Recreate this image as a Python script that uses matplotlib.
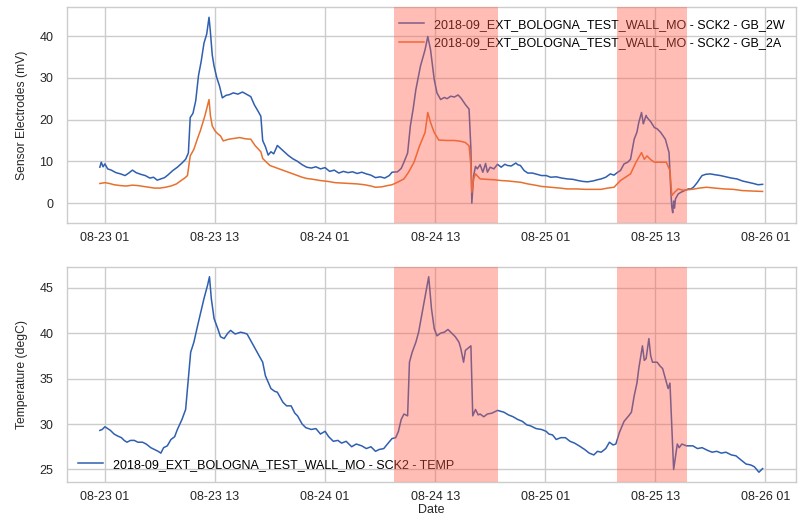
import matplotlib
matplotlib.use("Agg")
import matplotlib.pyplot as plt
import matplotlib.dates as mdates
import pandas as pd

# === 基本设置 ===
plt.rcParams["font.family"] = ["Liberation Sans", "DejaVu Sans"]

START = pd.Timestamp("2018-08-23 00:00")
NAME = "2018-09_EXT_BOLOGNA_TEST_WALL_MO - SCK2"

# === 数据 (小时, 从 08-23 00:00 起算) ===
hours_2w = [0.45, 0.6, 0.8, 1.0, 1.3, 1.7, 2.2, 2.7, 3.2, 3.6, 4.0, 4.4, 4.9, 5.4, 5.9, 6.3, 6.7, 7.1, 7.5, 7.9,
            8.4, 8.9, 9.4, 9.8, 10.1, 10.3, 10.6, 10.9, 11.2, 11.5, 11.8, 12.1, 12.35, 12.5, 12.7, 12.9, 13.2,
            13.5, 13.8, 14.2, 14.6, 15.0, 15.5, 16.0, 16.5, 16.9, 17.3, 17.7, 18.0, 18.2, 18.5, 18.8, 19.1,
            19.4, 19.8, 20.2, 20.6, 21.0, 21.5, 22.0, 22.5, 23.0, 23.5, 24.0, 24.5, 25.0, 25.5, 26.0, 26.5,
            27.0, 27.5, 28.0, 28.5, 29.0, 29.5, 30.0, 30.5, 31.0, 31.5, 32.0, 32.3, 32.9, 33.3, 33.6, 34.0,
            34.3, 34.6, 34.9, 35.4, 35.9, 36.2, 36.5, 36.9, 37.2, 37.6, 38.0, 38.3, 38.7, 39.1, 39.5, 39.8,
            40.3, 40.7, 40.9, 41.0, 41.2, 41.4, 41.6, 41.9, 42.2, 42.5, 42.7, 43.0, 43.4, 43.8, 44.2, 44.6,
            44.9, 45.3, 45.8, 46.0, 46.3, 46.7, 47.1, 47.6, 48.1, 48.6, 49.1, 49.6, 50.2, 50.8, 51.4, 52.0,
            52.6, 53.1, 53.6, 54.2, 54.7, 55.1, 55.6, 56.1, 56.5, 56.9, 57.2, 57.6, 58.0, 58.3, 58.7, 59.0,
            59.2, 59.5, 59.7, 59.8, 60.0, 60.1, 60.5, 60.9, 61.2, 61.6, 62.1, 62.5, 62.7, 62.8, 62.9, 63.0,
            63.1, 63.2, 63.5, 63.8, 64.1, 64.3, 64.6, 64.9, 65.2, 65.6, 65.9, 66.1, 66.5, 67.0, 67.5, 68.1,
            68.7, 69.3, 69.9, 70.5, 71.1, 71.7, 72.2, 72.7]
gb_2w = [8.6, 9.8, 8.7, 9.4, 8.2, 7.9, 7.3, 7.0, 6.6, 7.2, 7.9, 7.3, 6.9, 6.6, 6.0, 6.2, 5.5, 5.8, 6.1, 6.8,
         7.8, 8.6, 9.6, 10.5, 12.0, 20.5, 21.5, 24.5, 30.5, 34.0, 38.3, 40.5, 44.5, 41.0, 35.5, 32.8, 30.0,
         28.0, 25.2, 25.8, 26.0, 26.4, 26.1, 26.6, 26.0, 25.5, 23.5, 22.0, 20.8, 15.0, 13.5, 11.5, 12.3,
         11.8, 13.8, 13.0, 12.2, 11.4, 10.6, 10.0, 9.2, 8.6, 8.4, 8.7, 8.2, 8.5, 7.6, 7.9, 7.2,
         7.6, 7.3, 7.5, 7.1, 7.4, 7.0, 6.7, 6.1, 6.3, 6.0, 6.6, 7.4, 7.5, 8.3, 9.8, 12.0,
         18.5, 22.5, 27.2, 32.8, 36.7, 39.9, 36.7, 29.6, 26.4, 24.8, 25.3, 25.0, 25.6, 25.4, 25.9, 25.2,
         23.6, 22.5, 12.9, 0.0, 6.6, 8.8, 8.2, 9.2, 7.4, 9.5, 7.4, 8.6, 8.2, 9.3, 8.6, 9.3,
         9.0, 8.9, 9.6, 9.2, 9.0, 7.8, 7.2, 7.2, 6.9, 6.6, 6.6, 6.2, 6.3, 6.0, 5.8, 5.7,
         5.4, 5.2, 5.1, 5.3, 5.6, 5.8, 6.2, 7.0, 6.7, 7.4, 7.8, 9.4, 9.8, 10.5, 15.3, 17.0,
         19.3, 21.7, 19.0, 19.7, 21.0, 20.5, 19.5, 18.1, 17.8, 16.9, 15.3, 12.1, 2.6, -1.0, -2.3, 0.5,
         -1.2, 1.0, 2.2, 2.6, 2.9, 3.1, 3.4, 3.4, 3.9, 5.0, 6.0, 6.6, 6.9, 7.0, 6.8, 6.6,
         6.3, 6.0, 5.8, 5.3, 5.0, 4.7, 4.4, 4.5]

hours_2a = [0.45, 1.0, 1.5, 2.0, 2.7, 3.3, 4.0, 4.6, 5.2, 5.8, 6.4, 7.0, 7.6, 8.2, 8.8, 9.3, 9.7, 10.0, 10.3,
            10.7, 11.1, 11.4, 11.9, 12.2, 12.35, 12.5, 12.7, 13.0, 13.3, 13.6, 13.9, 14.5, 15.1, 15.7, 16.3,
            16.9, 17.4, 18.0, 18.2, 18.6, 19.0, 19.5, 20.0, 20.5, 21.0, 21.5, 22.0, 22.5, 23.0, 23.7, 24.5,
            25.3, 26.1, 26.9, 27.7, 28.5, 29.3, 30.0, 30.5, 31.2, 31.8, 32.3, 32.9, 33.6, 34.1, 34.7, 35.3,
            35.9, 36.2, 36.5, 36.9, 37.4, 38.3, 39.1, 39.8, 40.3, 40.7, 40.9, 41.0, 41.2, 41.4, 41.9, 42.6,
            43.4, 44.2, 45.0, 45.8, 46.3, 47.1, 47.9, 48.6, 49.6, 50.6, 51.4, 52.4, 53.4, 54.4, 55.1, 55.8,
            56.5, 57.2, 58.3, 58.9, 59.5, 59.8, 60.1, 60.5, 60.9, 61.6, 62.2, 62.6, 62.8, 63.1, 63.5, 64.0,
            65.0, 65.8, 66.6, 67.5, 68.5, 69.5, 70.5, 71.5, 72.7]
gb_2a = [4.7, 4.9, 4.7, 4.4, 4.2, 4.1, 4.3, 4.2, 4.0, 3.8, 3.6, 3.6, 3.8, 4.1, 4.6, 5.4, 6.0, 6.6, 11.3,
         12.9, 15.5, 17.3, 20.9, 23.5, 24.8, 21.0, 18.5, 17.3, 16.6, 16.1, 14.9, 15.3, 15.5, 15.7, 15.4,
         15.3, 13.7, 12.3, 10.7, 9.8, 9.0, 8.6, 8.2, 7.8, 7.4, 7.0, 6.6, 6.2, 5.9, 5.7, 5.4,
         5.2, 4.9, 4.8, 4.7, 4.6, 4.4, 4.1, 3.8, 3.9, 4.2, 4.4, 5.0, 5.8, 7.4, 9.8, 13.7,
         16.9, 21.7, 19.3, 16.9, 15.1, 15.0, 15.0, 14.8, 14.5, 13.7, 9.0, 2.6, 5.8, 7.0, 5.8, 5.7,
         5.6, 5.4, 5.3, 5.1, 5.0, 4.6, 4.3, 4.0, 3.8, 3.6, 3.4, 3.4, 3.3, 3.3, 3.3, 3.6,
         3.8, 5.4, 7.0, 9.8, 12.1, 10.5, 11.3, 10.4, 9.8, 9.8, 9.8, 7.8, 1.8, 2.6, 3.4, 3.1,
         3.3, 3.6, 3.8, 3.6, 3.4, 3.3, 3.0, 2.9, 2.8]

hours_temp = [0.45, 0.7, 1.0, 1.3, 1.6, 2.0, 2.35, 2.8, 3.1, 3.4, 3.8, 4.2, 4.6, 5.1, 5.5, 6.0, 6.4, 6.8, 7.1,
              7.4, 7.8, 8.2, 8.6, 8.9, 9.4, 9.8, 10.0, 10.35, 10.7, 11.1, 11.45, 11.8, 12.2, 12.4, 12.6, 12.9,
              13.3, 13.6, 14.0, 14.4, 14.7, 15.2, 15.8, 16.2, 16.5, 17.1, 17.6, 18.2, 18.5, 19.1, 19.5, 19.8,
              20.4, 20.8, 21.3, 21.7, 22.0, 22.5, 22.9, 23.5, 24.0, 24.5, 25.0, 25.4, 25.9, 26.4, 26.8, 27.3,
              27.9, 28.4, 29.0, 29.5, 30.0, 30.5, 30.9, 31.4, 31.8, 32.3, 32.7, 33.0, 33.3, 33.6, 34.0, 34.2,
              34.5, 34.9, 35.2, 35.6, 36.0, 36.3, 36.6, 36.9, 37.2, 37.6, 38.0, 38.4, 38.7, 39.2, 39.6, 39.8,
              40.1, 40.3, 40.9, 41.1, 41.4, 41.7, 41.9, 42.3, 42.7, 43.2, 43.8, 44.5, 45.0, 45.5, 46.0, 46.5,
              47.0, 47.4, 48.0, 48.6, 49.1, 49.4, 49.8, 50.2, 50.7, 51.2, 51.7, 52.2, 52.7, 53.3, 53.8, 54.3,
              54.7, 55.1, 55.6, 56.0, 56.4, 56.7, 57.1, 57.6, 58.1, 58.4, 58.7, 59.0, 59.2, 59.6, 59.8, 60.0,
              60.3, 60.5, 60.7, 61.2, 61.5, 61.8, 62.1, 62.4, 62.6, 63.0, 63.4, 63.6, 63.9, 64.4, 65.1, 65.6,
              66.1, 66.7, 67.2, 67.7, 68.2, 68.7, 69.3, 69.8, 70.4, 70.9, 71.4, 71.8, 72.3, 72.7]
temp = [29.3, 29.4, 29.7, 29.5, 29.3, 28.9, 28.7, 28.5, 28.2, 28.0, 28.2, 28.2, 28.0, 28.0, 27.8, 27.4, 27.2, 27.0, 26.8,
        27.4, 27.6, 28.3, 28.6, 29.4, 30.5, 31.6, 33.9, 37.9, 39.0, 40.8, 42.3, 43.8, 45.3, 46.2, 43.8, 41.6,
        40.5, 39.6, 39.4, 40.0, 40.3, 39.9, 40.1, 40.0, 39.9, 38.8, 37.9, 36.8, 35.3, 33.9, 33.6, 33.5,
        32.4, 32.0, 32.0, 31.2, 30.9, 30.0, 29.6, 29.4, 29.5, 28.9, 29.2, 28.6, 28.1, 28.2, 27.9, 28.1,
        27.5, 27.8, 27.6, 27.3, 27.5, 27.0, 27.2, 27.3, 27.8, 28.4, 28.5, 29.2, 30.5, 31.1, 30.9, 36.8,
        37.9, 39.0, 40.1, 42.3, 44.5, 46.2, 42.7, 40.5, 39.7, 40.0, 40.1, 40.4, 40.1, 39.6, 39.0, 38.3,
        36.8, 38.1, 38.6, 30.9, 31.6, 31.0, 31.1, 30.8, 31.1, 31.2, 31.5, 31.3, 31.0, 30.8, 30.5, 30.3,
        29.9, 29.8, 29.5, 29.4, 29.2, 28.9, 28.8, 28.3, 28.5, 28.5, 28.1, 27.9, 27.6, 27.2, 26.8, 26.6,
        27.0, 26.9, 27.3, 28.0, 27.7, 27.8, 29.1, 30.3, 30.9, 31.3, 33.1, 34.5, 36.1, 38.6, 37.0, 37.2,
        39.4, 37.5, 36.8, 36.8, 36.4, 36.1, 35.0, 33.9, 34.5, 25.0, 27.8, 27.4, 27.8, 27.6, 27.6, 27.3,
        27.4, 27.1, 26.9, 27.0, 26.8, 26.9, 26.6, 26.5, 26.0, 25.6, 25.5, 25.3, 24.7, 25.1]

# 标记的时间段
span_start = ["2018-08-24 08:30", "2018-08-25 08:50"]
span_end = ["2018-08-24 19:50", "2018-08-25 16:25"]


def to_time(hours):
    return START + pd.to_timedelta(pd.Series(hours), unit="h")


BLUE = "#2f5fb0"
ORANGE = "#e8702e"
GRID = "#cccccc"

# === 绘图 ===
fig = plt.figure(figsize=(8.02, 5.2), dpi=100)
ax1 = fig.add_axes([0.0832, 0.5721, 0.909, 0.4135])
ax2 = fig.add_axes([0.0832, 0.0731, 0.909, 0.4135])

ax1.plot(to_time(hours_2w), gb_2w, color=BLUE, lw=1.1, label=NAME + " - GB_2W")
ax1.plot(to_time(hours_2a), gb_2a, color=ORANGE, lw=1.1, label=NAME + " - GB_2A")
ax2.plot(to_time(hours_temp), temp, color=BLUE, lw=1.1, label=NAME + " - TEMP")

for ax in (ax1, ax2):
    for s, e in zip(span_start, span_end):
        ax.axvspan(pd.Timestamp(s), pd.Timestamp(e), color="#ff5a46", alpha=0.4, lw=0, zorder=6)
    ax.set_facecolor("white")
    ax.grid(True, color=GRID, lw=1.0)
    ax.set_axisbelow(True)
    for sp in ax.spines.values():
        sp.set_color(GRID)
        sp.set_linewidth(1.0)
    ax.xaxis.set_major_locator(mdates.HourLocator(byhour=[1, 13]))
    ax.xaxis.set_major_formatter(mdates.DateFormatter("%m-%d %H"))
    ax.tick_params(axis="x", length=0, pad=6.5, labelsize=9, labelcolor="#262626")
    ax.tick_params(axis="y", length=0, pad=9.5, labelsize=9, labelcolor="#262626")

ax1.set_yticks([0, 10, 20, 30, 40])
ax2.set_yticks([25, 30, 35, 40, 45])

ax1.set_ylabel("Sensor Electrodes (mV)", fontsize=8.7, color="#262626", labelpad=8)
ax2.set_ylabel("Temperature (degC)", fontsize=8.7, color="#262626", labelpad=8)
ax2.set_xlabel("Date", fontsize=9, color="#262626", labelpad=1)

ax1.legend(loc="upper right", frameon=False, fontsize=9)
ax2.legend(loc="lower left", frameon=False, fontsize=9)

plt.savefig("out.png", dpi=100)
plt.close()
